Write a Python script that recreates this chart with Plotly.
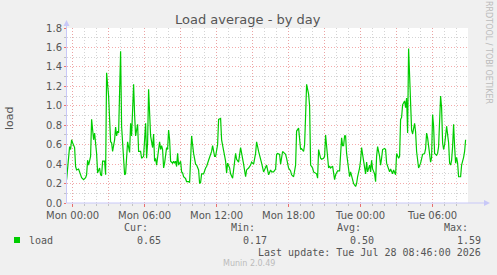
import pandas as pd
import plotly.graph_objects as go

# ---- data: sample index (5-minute steps since Mon 00:00) and load values ----
step5 = [-6, -3, -2, -1, 0, 2, 3, 4, 6, 8, 9, 11, 13, 14, 15, 16, 18, 19, 21, 22, 24, 25, 27, 28, 29, 30,
         32, 33, 34, 36, 38, 39, 40, 42, 43, 44, 45, 46, 47, 48, 49, 51, 52, 53, 54, 55, 57, 58, 59, 61,
         62, 63, 65, 66, 68, 69, 71, 72, 73, 74, 75, 76, 77, 78, 80, 81, 82, 83, 84, 86, 87, 88, 89, 90,
         91, 92, 93, 94, 95, 96, 97, 98, 100, 101, 102, 103, 104, 105, 106, 108, 109, 110, 111, 113, 114,
         116, 117, 118, 119, 121, 123, 124, 126, 127, 128, 129, 131, 133, 134, 136, 138, 139, 140, 142,
         143, 145, 146, 148, 149, 151, 153, 154, 155, 157, 158, 160, 161, 163, 164, 166, 168, 169, 171,
         173, 174, 176, 178, 179, 181, 183, 184, 186, 188, 189, 191, 193, 194, 196, 198, 199, 201, 203,
         204, 205, 207, 208, 209, 210, 212, 213, 214, 216, 218, 219, 221, 223, 224, 226, 228, 229, 231,
         232, 233, 234, 236, 237, 238, 240, 241, 243, 244, 245, 246, 248, 249, 251, 252, 253, 254, 256,
         257, 258, 260, 261, 262, 263, 265, 267, 268, 269, 270, 271, 272, 273, 274, 276, 277, 278, 279,
         281, 283, 284, 285, 287, 288, 289, 290, 292, 293, 294, 295, 297, 298, 299, 300, 302, 303, 304,
         305, 307, 308, 309, 310, 312, 313, 314, 316, 317, 318, 320, 321, 322, 323, 324, 326, 327, 328,
         329, 330, 332, 333, 334, 335, 336, 337, 339, 340, 341, 342, 343, 344, 346, 347, 348, 350, 352,
         353, 354, 355, 357, 358, 359, 360, 361, 362, 364, 365, 366, 368, 369, 370, 371, 372, 373, 374,
         376, 377, 378, 379, 380, 381, 382, 383, 384, 385, 386, 388, 389, 390, 391, 392, 393]

load = [0.24, 0.58, 0.55, 0.65, 0.62, 0.57, 0.375, 0.34, 0.35, 0.27, 0.26, 0.24, 0.26, 0.29, 0.44, 0.39,
        0.48, 0.86, 0.65, 0.72, 0.51, 0.31, 0.36, 0.29, 0.28, 0.43, 0.43, 0.29, 1.34, 1.10, 0.63, 0.62,
        0.53, 0.65, 0.78, 0.69, 0.74, 0.72, 1.13, 1.56, 0.79, 0.48, 0.29, 0.30, 0.44, 0.63, 0.52, 0.82,
        0.69, 1.22, 0.91, 0.69, 0.81, 0.53, 0.53, 0.46, 0.48, 0.69, 0.82, 0.46, 0.62, 1.17, 0.91, 0.69,
        0.57, 0.71, 0.43, 0.46, 0.39, 0.55, 0.63, 0.55, 0.59, 0.55, 0.36, 0.41, 0.50, 0.57, 0.55, 0.75,
        0.65, 0.43, 0.41, 0.43, 0.41, 0.43, 0.375, 0.51, 0.39, 0.43, 0.32, 0.31, 0.27, 0.25, 0.22, 0.22,
        0.21, 0.58, 0.69, 0.51, 0.40, 0.39, 0.34, 0.20, 0.21, 0.30, 0.30, 0.36, 0.375, 0.44, 0.49, 0.53,
        0.59, 0.48, 0.48, 0.60, 0.86, 0.87, 0.65, 0.55, 0.43, 0.31, 0.41, 0.36, 0.30, 0.255, 0.34, 0.51,
        0.45, 0.42, 0.57, 0.52, 0.40, 0.27, 0.34, 0.36, 0.39, 0.42, 0.40, 0.51, 0.63, 0.53, 0.43, 0.41,
        0.32, 0.38, 0.39, 0.29, 0.34, 0.32, 0.32, 0.35, 0.50, 0.51, 0.50, 0.40, 0.48, 0.53, 0.51, 0.50,
        0.46, 0.36, 0.33, 0.29, 0.27, 0.39, 0.74, 0.77, 0.55, 0.56, 0.53, 0.60, 0.90, 1.22, 1.12, 1.00,
        0.39, 0.36, 0.32, 0.31, 0.30, 0.255, 0.55, 0.46, 0.45, 0.46, 0.48, 0.70, 0.56, 0.36, 0.38, 0.36,
        0.38, 0.31, 0.24, 0.29, 0.33, 0.33, 0.57, 0.67, 0.59, 0.59, 0.69, 0.69, 0.51, 0.31, 0.27, 0.32,
        0.27, 0.20, 0.17, 0.20, 0.27, 0.36, 0.44, 0.57, 0.50, 0.39, 0.30, 0.42, 0.32, 0.39, 0.32, 0.44,
        0.35, 0.30, 0.22, 0.48, 0.58, 0.48, 0.39, 0.46, 0.55, 0.56, 0.55, 0.41, 0.36, 0.32, 0.35, 0.30,
        0.34, 0.30, 0.29, 0.51, 0.46, 0.48, 0.86, 0.88, 1.01, 1.05, 0.98, 1.08, 0.72, 1.59, 1.31, 0.75,
        0.71, 0.75, 0.82, 0.73, 0.53, 0.36, 0.38, 0.41, 0.50, 0.51, 0.56, 0.72, 0.67, 0.46, 0.42, 0.47,
        0.91, 0.79, 0.51, 0.49, 0.51, 0.58, 1.10, 0.98, 0.62, 0.55, 0.60, 0.69, 0.79, 0.62, 0.41, 0.39,
        0.44, 0.58, 0.81, 0.58, 0.41, 0.47, 0.41, 0.27, 0.27, 0.39, 0.42, 0.47, 0.53, 0.65]

tick_hours = [0, 3, 6, 9, 12, 15, 18, 21, 24, 27, 30, 33]
tick_labels = ["Mon 00:00", "", "Mon 06:00", "", "Mon 12:00", "", "Mon 18:00", "",
               "Tue 00:00", "", "Tue 06:00", ""]
stat_names = ["Cur:", "Min:", "Avg:", "Max:"]
stat_values = ["0.65", "0.17", "0.50", "1.59"]

base = pd.Timestamp("2026-07-27 00:00")
times = [base + pd.Timedelta(minutes=5 * s) for s in step5]

# ---- geometry (pixels) ----
W, H = 497, 275
L, R, T, B = 67, 468, 28, 203
pw, ph = R - L, B - T


def px(x):
    return (x - L) / pw


def py(y):
    return (B - y) / ph


MONO = "DejaVu Sans Mono"
SANS = "DejaVu Sans"
GREEN = "#00CC00"

fig = go.Figure()
fig.add_trace(go.Scatter(x=times, y=load, mode="lines",
                         line=dict(color=GREEN, width=1.2), showlegend=False,
                         hoverinfo="skip"))

major_grid = "rgba(240,150,150,0.8)"
minor_grid = "rgba(205,205,205,0.85)"
DASH = "1px,2px"

fig.update_layout(
    width=W, height=H,
    margin=dict(l=L, r=W - R, t=T, b=H - B, pad=0),
    paper_bgcolor="#F0F0F0", plot_bgcolor="#FFFFFF",
    font=dict(family=SANS, size=10, color="#555555"),
    xaxis=dict(
        range=[base - pd.Timedelta(minutes=28), base + pd.Timedelta(hours=32, minutes=57)],
        tickmode="array",
        tickvals=[base + pd.Timedelta(hours=h) for h in tick_hours],
        ticktext=tick_labels,
        showgrid=True, gridcolor=major_grid, griddash=DASH, gridwidth=1,
        ticks="outside", ticklen=3, tickcolor="rgba(235,100,100,0.9)",
        zeroline=False, showline=False,
        tickfont=dict(family=SANS, size=10, color="#555555"),
        minor=dict(tickmode="array",
                   tickvals=[base + pd.Timedelta(hours=h) for h in range(-1, 34)],
                   showgrid=True, gridcolor=minor_grid, griddash=DASH, gridwidth=1,
                   ticks="outside", ticklen=2, tickcolor="rgba(190,190,190,0.9)"),
        fixedrange=True,
    ),
    yaxis=dict(
        range=[0, 1.8], dtick=0.2, tick0=0, tickformat=".1f",
        showgrid=True, gridcolor=major_grid, griddash=DASH, gridwidth=1,
        ticks="outside", ticklen=2, tickcolor="rgba(235,100,100,0.9)",
        zeroline=False, showline=False,
        tickfont=dict(family=SANS, size=10, color="#555555"),
        minor=dict(dtick=0.1, showgrid=True, gridcolor=minor_grid, griddash=DASH,
                   gridwidth=1, ticks="outside", ticklen=2, tickcolor="rgba(190,190,190,0.9)"),
        fixedrange=True,
    ),
)

axis_col = "#C8C8F8"
shapes = [
    # y axis line + arrow
    dict(type="line", xref="paper", yref="paper", x0=px(66.5), x1=px(66.5), y0=py(203), y1=py(24),
         line=dict(color=axis_col, width=1)),
    dict(type="path", xref="paper", yref="paper",
         path=f"M {px(63.5)} {py(26)} L {px(69.5)} {py(26)} L {px(66.5)} {py(20)} Z",
         fillcolor=axis_col, line=dict(color=axis_col, width=0)),
    # x axis line + arrow
    dict(type="line", xref="paper", yref="paper", x0=px(66.5), x1=px(486), y0=py(203), y1=py(203),
         line=dict(color=axis_col, width=1)),
    dict(type="path", xref="paper", yref="paper",
         path=f"M {px(484)} {py(200)} L {px(484)} {py(206)} L {px(490)} {py(203)} Z",
         fillcolor=axis_col, line=dict(color=axis_col, width=0)),
    # legend swatch
    dict(type="rect", xref="paper", yref="paper", x0=px(14), x1=px(20), y0=py(243), y1=py(237),
         fillcolor=GREEN, line=dict(width=0)),
]
fig.update_layout(shapes=shapes)

ann = []


def text(x, y, s, size=10, family=MONO, color="#555555", xanchor="left", angle=0):
    ann.append(dict(x=px(x), y=py(y), xref="paper", yref="paper", text=s, showarrow=False,
                    xanchor=xanchor, yanchor="middle", textangle=angle,
                    font=dict(family=family, size=size, color=color)))


text(248, 19, "Load average - by day", size=13, family=SANS, color="#555555", xanchor="center")
text(10, 118, "load", size=11, family=SANS, color="#555555", xanchor="center", angle=-90)
text(489, 52, "RRDTOOL / TOBI OETIKER", size=8, family=SANS, color="#BBBBBB",
     xanchor="center", angle=90)
text(26.5, 240, "load")
head_right = [150, 257, 363, 470]
val_right = [163, 269, 376, 483]
for nm, hx in zip(stat_names, head_right):
    text(hx, 227.5, nm, xanchor="right")
for v, vx in zip(stat_values, val_right):
    text(vx, 240, v, xanchor="right")
text(483, 252, "Last update: Tue Jul 28 08:46:00 2026", xanchor="right")
text(249, 263.5, "Munin 2.0.49", size=8, family=SANS, color="#BBBBBB", xanchor="center")
fig.update_layout(annotations=ann)

fig.write_html("out.html")
